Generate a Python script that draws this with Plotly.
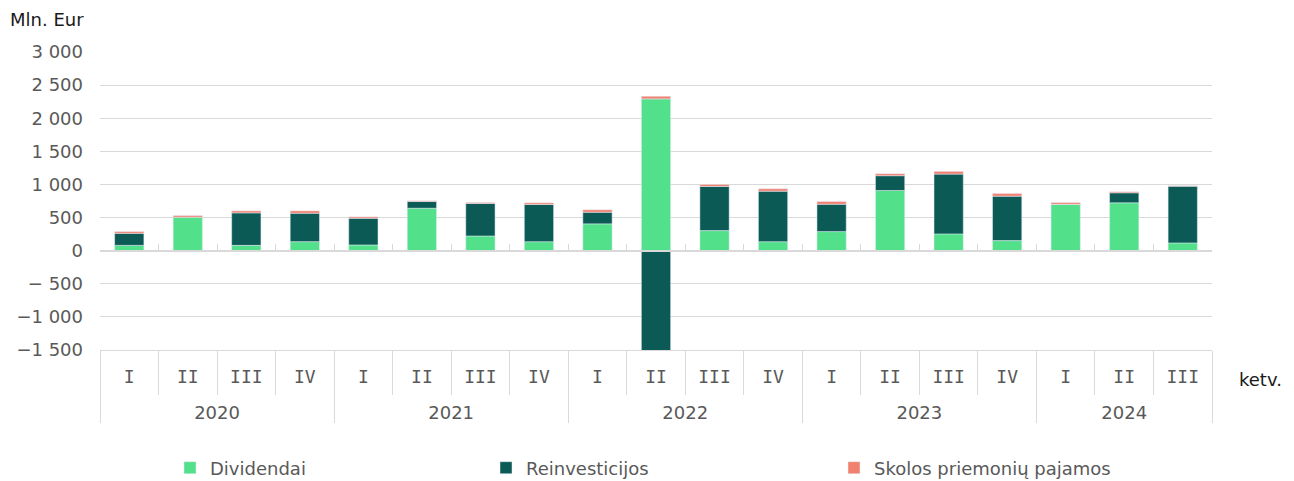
import plotly.graph_objects as go

years = ["2020"] * 4 + ["2021"] * 4 + ["2022"] * 4 + ["2023"] * 4 + ["2024"] * 3
quarters = ["I", "II", "III", "IV"] * 4 + ["I", "II", "III"]

dividendai = [80, 505, 80, 136, 86, 641, 222, 136, 405, 2292, 303, 136, 288, 909, 253, 152, 701, 723, 117]
reinvesticijos = [182, -20, 491, 429, 403, 101, 490, 561, 175, -1530, 667, 762, 413, 223, 903, 671, 0, 151, 857]
skolos = [26, 25, 30, 36, 21, 11, 15, 25, 37, 40, 30, 37, 41, 30, 41, 41, 26, 15, 5]

y_tickvals = [-1500, -1000, -500, 0, 500, 1000, 1500, 2000, 2500, 3000]
y_ticktext = ["\u22121 500", "\u22121 000", "\u2212 500", "0", "500", "1 000", "1 500", "2 000", "2 500", "3 000"]

# derived category positions (index based, as on a category axis)
flat_labels = [f"{y} {q}" for y, q in zip(years, quarters)]
n = len(flat_labels)
centers = list(range(n))
boundaries = [i - 0.5 for i in range(n + 1)]
year_names = []
for y in years:
    if y not in year_names:
        year_names.append(y)
year_centers = []
year_bounds = [-0.5]
for yn in year_names:
    idx = [i for i, y in enumerate(years) if y == yn]
    year_centers.append((idx[0] + idx[-1]) / 2)
    year_bounds.append(idx[-1] + 0.5)

GREEN = "#52E08A"
DARK = "#0B5A56"
PINK = "#F2806F"
GRID = "#D9D9D9"
TXT = "#595959"
FONT = "DejaVu Sans"
FS = 18
XR = [-0.5, n - 0.5]

fig = go.Figure()
fig.add_trace(go.Bar(x=flat_labels, y=dividendai, name="Dividendai",
                     marker_color=GREEN, legend="legend"))
fig.add_trace(go.Bar(x=flat_labels, y=reinvesticijos, name="Reinvesticijos",
                     marker_color=DARK, legend="legend2"))
fig.add_trace(go.Bar(x=flat_labels, y=skolos, name="Skolos priemonių pajamos",
                     marker_color=PINK, legend="legend3"))

# invisible helper traces so the overlay axes are drawn
for ax in ["x2", "x3", "x4"]:
    fig.add_trace(go.Scatter(x=centers, y=[0] * n, xaxis=ax, yaxis="y", mode="markers",
                             marker=dict(opacity=0, size=1), showlegend=False,
                             hoverinfo="skip"))

leg = dict(orientation="h", xref="container", yref="container", y=0.0275,
           xanchor="left", yanchor="middle", font=dict(size=FS, color=TXT),
           bgcolor="rgba(0,0,0,0)")

fig.update_layout(
    width=1286, height=473,
    margin=dict(l=92, r=82, t=44, b=131),
    paper_bgcolor="white", plot_bgcolor="white",
    barmode="relative", bargap=0.5, showlegend=True,
    font=dict(family=FONT, color=TXT, size=FS),
    xaxis=dict(type="category", range=XR, ticks="", showgrid=False, showline=True,
               linecolor=GRID, linewidth=1, showticklabels=False, zeroline=False,
               automargin=False),
    # quarter labels + quarter separators
    xaxis2=dict(type="linear", overlaying="x", anchor="y", side="bottom", range=XR,
                tickmode="array", tickvals=centers, ticktext=quarters, ticks="",
                ticklabelstandoff=14, showgrid=False, showline=False, zeroline=False,
                automargin=False,
                tickfont=dict(family="DejaVu Sans Mono", size=FS, color=TXT),
                minor=dict(tickmode="array", tickvals=boundaries, ticks="outside",
                           ticklen=44, tickcolor=GRID, tickwidth=1, showgrid=False)),
    # year labels + year separators
    xaxis3=dict(type="linear", overlaying="x", anchor="y", side="bottom", range=XR,
                tickmode="array", tickvals=year_centers, ticktext=year_names, ticks="",
                ticklabelstandoff=50, showgrid=False, showline=False, zeroline=False,
                automargin=False,
                tickfont=dict(family=FONT, size=FS, color=TXT),
                minor=dict(tickmode="array", tickvals=year_bounds, ticks="outside",
                           ticklen=72, tickcolor=GRID, tickwidth=1, showgrid=False)),
    # zero line with small tick marks
    xaxis4=dict(type="linear", overlaying="x", anchor="free", position=1500 / 4500,
                side="bottom", range=XR, tickmode="array", tickvals=boundaries,
                ticks="inside", ticklen=6, tickcolor=GRID, tickwidth=1,
                showticklabels=False, showgrid=False, showline=True, linecolor=GRID,
                linewidth=2, zeroline=False, automargin=False),
    yaxis=dict(range=[-1500, 3000], tickvals=y_tickvals, ticktext=y_ticktext,
               showgrid=True, gridcolor=GRID, gridwidth=1, zeroline=False,
               showline=False, ticks="", ticklabelstandoff=16, automargin=False,
               tickfont=dict(family=FONT, size=FS, color=TXT)),
    legend=dict(leg, x=162 / 1286),
    legend2=dict(leg, x=478 / 1286),
    legend3=dict(leg, x=826 / 1286),
    annotations=[
        dict(text="Mln. Eur", xref="paper", yref="paper", x=-92 / 1112, y=1 + 32 / 298,
             xanchor="left", yanchor="middle", showarrow=False,
             font=dict(family=FONT, size=FS, color="#1A1A1A")),
        dict(text="ketv.", xref="paper", yref="paper", x=1 + 25 / 1112, y=-29 / 298,
             xanchor="left", yanchor="middle", showarrow=False,
             font=dict(family=FONT, size=FS, color="#1A1A1A")),
    ],
)

fig.write_html("out.html")
